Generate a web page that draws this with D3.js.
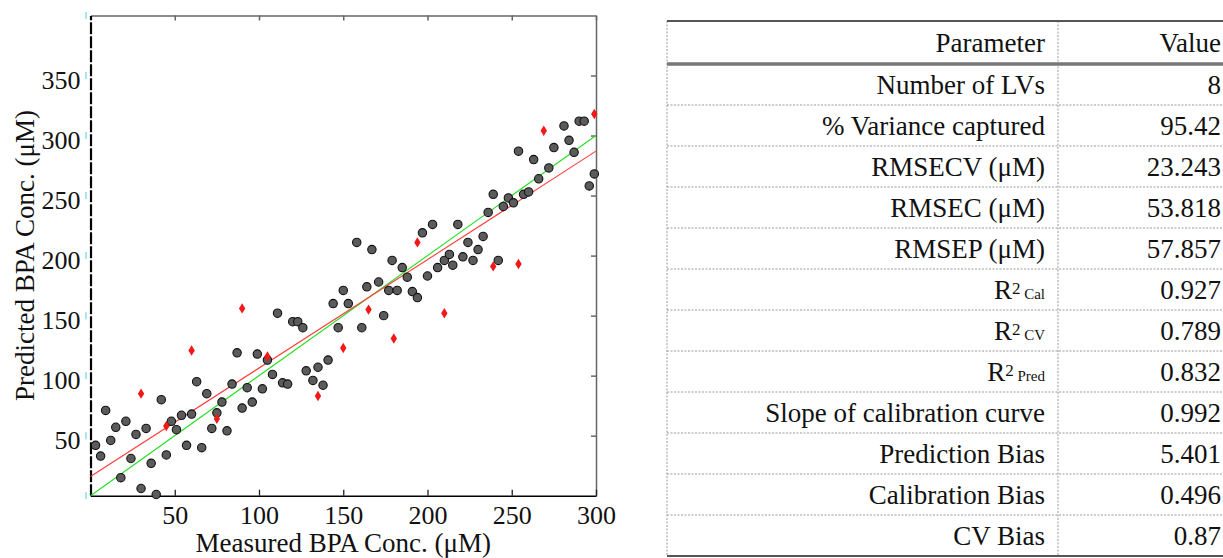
<!DOCTYPE html>
<html>
<head>
<meta charset="utf-8">
<script src="https://cdn.jsdelivr.net/npm/d3@7"></script>
<style>
body{margin:0;background:#fff;}
svg text{font-family:"Liberation Serif",serif;fill:#111;}
</style>
</head>
<body>
<script>
// calibration samples (grey circles): measured vs predicted
var calX=[3,6,9,12,15,18,21,24,27,30,33,36,39,42,45,48,51,54,57,60,63,66,69,72,75,78,81,84,87,90,93,96,99,102,105,108,111,114,117,120,123,126,128,132,135,138,141,144,147,150,153,158,161,164,167,171,174,177,179,182,185,188,191,194,197,200,203,206,210,213,215,218,221,224,227,230,233,236,239,242,245,248,251,254,257,260,263,266,272,275,281,284,287,290,293,296,299];
var calY=[42,33,71,46,57,15,62,31,51,6,56,27,1,80,34,62,55,67,42,68,95,40,85,56,69,78,54,93,119,73,90,78,118,89,113,101,152,94,93,145,145,140,104,96,107,92,113,160,140,171,160,211,140,174,205,178,150,171,196,171,190,182,170,165,219,183,226,190,196,201,192,226,199,211,196,205,216,236,251,196,241,248,244,287,251,253,280,264,273,290,308,296,286,312,312,258,268];
// prediction samples (red diamonds)
var predX=[30,45,60,75,90,105,135,150,165,180,194,210,239,254,269,299];
var predY=[85,58,121,64,156,116,83,123,155,131,211,152,191,193,304,318];
// reference line y=x and fitted regression line
var idealX=[0,300], idealY=[0,300];
var fitX=[0,300], fitY=[16,287];

var xTicks=[50,100,150,200,250,300];
var yTicks=[50,100,150,200,250,300,350];
var edgeTicks=[0,50,100,150,200,250,300,350,400];

// table content
var paramNames=["Number of LVs","% Variance captured","RMSECV (\u03bcM)","RMSEC (\u03bcM)","RMSEP (\u03bcM)","R2 Cal","R2 CV","R2 Pred","Slope of calibration curve","Prediction Bias","Calibration Bias","CV Bias"];
var paramValues=["8","95.42","23.243","53.818","57.857","0.927","0.789","0.832","0.992","5.401","0.496","0.87"];

var svg=d3.select("body").append("svg").attr("width",1223).attr("height",558);

var x=d3.scaleLinear().domain([0,300]).range([90.5,596]);
var y=d3.scaleLinear().domain([0,400]).range([495.7,15.5]);

// top and right frame (grey, ticks inward)
var topAx=svg.append("g").attr("transform","translate(0,"+y(400)+")")
	.call(d3.axisTop(x).tickValues(xTicks).tickSize(-5).tickSizeOuter(0).tickFormat(""));
topAx.selectAll("path,line").attr("stroke","#666").attr("stroke-width",1.5);
var rightAx=svg.append("g").attr("transform","translate("+x(300)+",0)")
	.call(d3.axisRight(y).tickValues(yTicks).tickSize(-5).tickSizeOuter(0).tickFormat(""));
rightAx.selectAll("path,line").attr("stroke","#666").attr("stroke-width",1.5);

// bottom axis
var bottomAx=svg.append("g").attr("transform","translate(0,"+y(0)+")")
	.call(d3.axisBottom(x).tickValues(xTicks).tickSize(-6).tickSizeOuter(0).tickPadding(10));
bottomAx.select(".domain").attr("stroke","#000").attr("stroke-width",1.5);
bottomAx.selectAll("line").attr("stroke","#222").attr("stroke-width",1.3);
bottomAx.selectAll("text").attr("font-size",26).attr("font-family","Liberation Serif");

// left axis, dashed black line
var leftAx=svg.append("g").attr("transform","translate("+x(0)+",0)")
	.call(d3.axisLeft(y).tickValues(yTicks).tickSize(0).tickSizeOuter(0).tickPadding(10));
leftAx.select(".domain").attr("stroke","#000").attr("stroke-width",2.2).attr("stroke-dasharray","12,2");
leftAx.selectAll("text").attr("font-size",26).attr("font-family","Liberation Serif").attr("dy","0.48em");

// small cyan marks left of the y axis
svg.append("g").selectAll("line").data(edgeTicks).enter().append("line")
	.attr("x1",x(0)-4.5).attr("x2",x(0)-4.5)
	.attr("y1",function(d){return y(d)-3.5;}).attr("y2",function(d){return y(d)+3.5;})
	.attr("stroke","#8fdcf7").attr("stroke-width",1.6);

// lines
var line=d3.line().x(function(d){return x(d[0]);}).y(function(d){return y(d[1]);});
svg.append("path").datum(d3.zip(idealX,idealY)).attr("d",line)
	.attr("fill","none").attr("stroke","#22e022").attr("stroke-width",1.1);
svg.append("path").datum(d3.zip(fitX,fitY)).attr("d",line)
	.attr("fill","none").attr("stroke","#ff3b3b").attr("stroke-width",1.1);

// points
svg.append("g").selectAll("circle").data(d3.zip(calX,calY)).enter().append("circle")
	.attr("cx",function(d){return x(d[0]);}).attr("cy",function(d){return y(d[1]);})
	.attr("r",4.2).attr("fill","#5b5b5b").attr("stroke","#111").attr("stroke-width",1.1);
svg.append("g").selectAll("path").data(d3.zip(predX,predY)).enter().append("path")
	.attr("transform",function(d){return "translate("+x(d[0])+","+y(d[1])+")";})
	.attr("d","M0,-5.2L3.2,0L0,5.2L-3.2,0Z").attr("fill","#f21818");

// axis titles
svg.append("text").attr("x",(x(0)+x(300))/2).attr("y",552).attr("text-anchor","middle")
	.attr("font-size",27).text("Measured BPA Conc. (\u03bcM)");
svg.append("text").attr("transform","translate(34,"+(y(0)+y(400))/2+") rotate(-90)")
	.attr("text-anchor","middle").attr("font-size",27).text("Predicted BPA Conc. (\u03bcM)");

// ---- table ----
var tLeft=667, tRight=1223, colDiv=1058, tTop=21, headBottom=64, tBottom=556;
var rows=d3.scaleBand().domain(d3.range(paramNames.length)).range([headBottom,tBottom]);
var tbl=svg.append("g");

// row separators (dashed)
tbl.selectAll("line.sep").data(d3.range(1,paramNames.length)).enter().append("line")
	.attr("x1",tLeft).attr("x2",tRight)
	.attr("y1",function(i){return rows(i);}).attr("y2",function(i){return rows(i);})
	.attr("stroke","#9a9a9a").attr("stroke-width",1).attr("stroke-dasharray","2,1.5");
// vertical dashed lines
[tLeft,colDiv].forEach(function(vx){
	tbl.append("line").attr("x1",vx).attr("x2",vx).attr("y1",tTop).attr("y2",tBottom)
		.attr("stroke","#9a9a9a").attr("stroke-width",1).attr("stroke-dasharray","2,1.5");
});
tbl.append("line").attr("x1",tLeft).attr("x2",tRight).attr("y1",tTop).attr("y2",tTop)
	.attr("stroke","#555").attr("stroke-width",2);
tbl.append("line").attr("x1",tLeft).attr("x2",tRight).attr("y1",headBottom).attr("y2",headBottom)
	.attr("stroke","#777").attr("stroke-width",3.5);
tbl.append("line").attr("x1",tLeft).attr("x2",tRight).attr("y1",tBottom).attr("y2",tBottom)
	.attr("stroke","#555").attr("stroke-width",2);

// header
tbl.append("text").attr("x",1045).attr("y",52).attr("text-anchor","end").attr("font-size",27).text("Parameter");
tbl.append("text").attr("x",1221).attr("y",52).attr("text-anchor","end").attr("font-size",27).text("Value");

// names, with R2 rows using super/subscript
tbl.selectAll("text.name").data(paramNames).enter().append("text").attr("class","name")
	.attr("x",1045).attr("y",function(d,i){return rows(i)+rows.bandwidth()/2+9;})
	.attr("text-anchor","end").attr("font-size",27)
	.each(function(d){
		var t=d3.select(this);
		if(d.indexOf("R2 ")==0){
			t.append("tspan").text("R");
			t.append("tspan").attr("font-size",17).attr("dy",-5).text("2");
			t.append("tspan").attr("font-size",15).attr("dy",5).text(" "+d.slice(3));
		}else{
			t.text(d);
		}
	});
tbl.selectAll("text.val").data(paramValues).enter().append("text").attr("class","val")
	.attr("x",1221).attr("y",function(d,i){return rows(i)+rows.bandwidth()/2+9;})
	.attr("text-anchor","end").attr("font-size",27).text(function(d){return d;});
</script>
</body>
</html>
